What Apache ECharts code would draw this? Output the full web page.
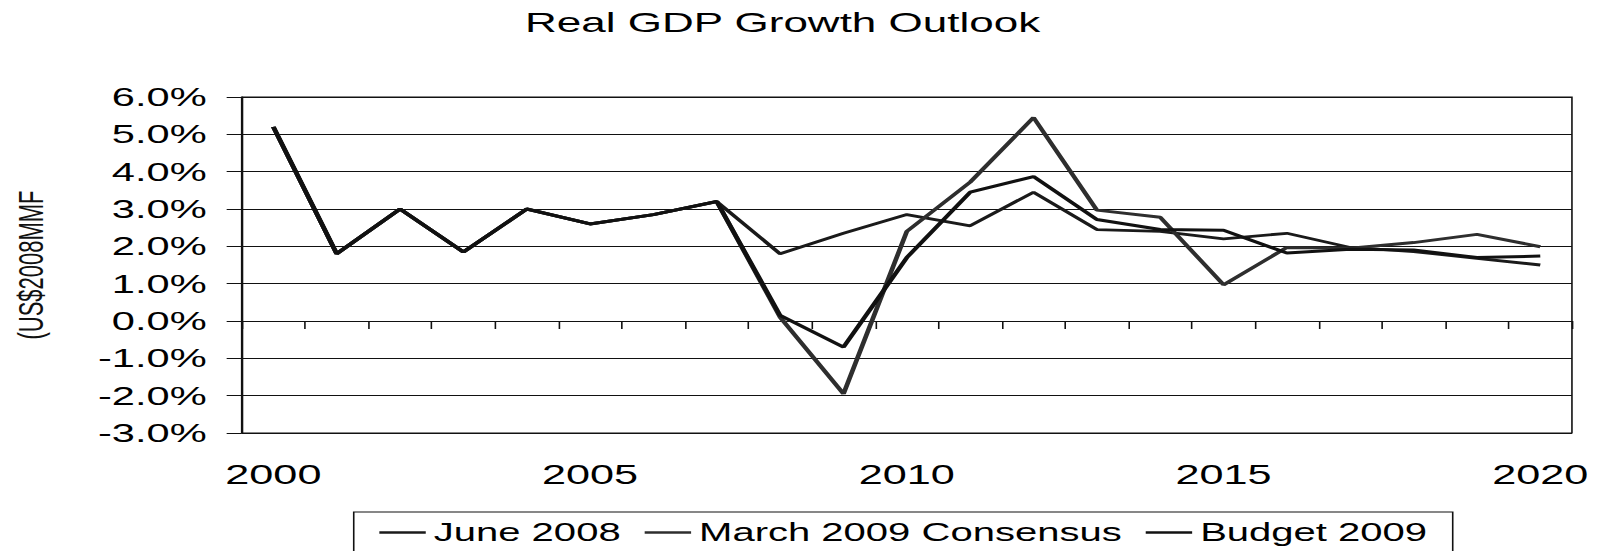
<!DOCTYPE html>
<html>
<head>
<meta charset="utf-8">
<title>Real GDP Growth Outlook</title>
<script src="https://cdn.jsdelivr.net/npm/echarts@6/dist/echarts.min.js"></script>
<style>
  html, body { margin: 0; padding: 0; background: #fff; overflow: hidden; }
  /* the scanned original is stretched sideways, so lay the chart out narrow and widen it */
  #chart { width: 1004px; height: 551px; transform: scaleX(1.6006); transform-origin: 0 0; }
</style>
</head>
<body>
<div id="chart"></div>
<script>
const years = ['2000', '2001', '2002', '2003', '2004', '2005', '2006', '2007', '2008', '2009', '2010',
  '2011', '2012', '2013', '2014', '2015', '2016', '2017', '2018', '2019', '2020']

// real GDP growth, %
const june2008 = [5.2, 1.8, 3.0, 1.85, 3.0, 2.6, 2.85, 3.2, 1.8, 2.35, 2.85,
  2.55, 3.45, 2.45, 2.4, 2.2, 2.35, 1.97, 1.86, 1.68, 1.5]
const march2009 = [5.2, 1.8, 3.0, 1.85, 3.0, 2.6, 2.85, 3.2, 0.1, -1.95, 2.4,
  3.72, 5.45, 2.97, 2.78, 0.97, 1.97, 1.95, 2.1, 2.32, 1.99]
const budget2009 = [5.2, 1.8, 3.0, 1.85, 3.0, 2.6, 2.85, 3.2, 0.15, -0.7, 1.7,
  3.45, 3.87, 2.72, 2.45, 2.43, 1.82, 1.92, 1.9, 1.7, 1.74]

const yMin = -3
const yMax = 6
const yStep = 1

const font = 'Liberation Sans'

function lineSeries (name, data, color, width) {
  return {
    name: name,
    type: 'line',
    xAxisIndex: 0,
    data: data,
    symbol: 'none',
    lineStyle: { color: color, width: width },
    itemStyle: { color: color }
  }
}

const chart = echarts.init(document.getElementById('chart'), null, { renderer: 'svg' })

const option = {
  backgroundColor: '#fff',
  animation: false,
  textStyle: { fontFamily: font, color: '#000' },
  title: {
    text: 'Real GDP Growth Outlook',
    left: 323,
    top: 4,
    textStyle: { fontFamily: font, fontSize: 27.5, fontWeight: 'normal', color: '#000' }
  },
  grid: {
    left: 148.7,
    right: 21.9,
    top: 97,
    bottom: 118,
    show: true,
    borderColor: '#111',
    borderWidth: 1
  },
  legend: {
    left: 221,
    top: 512,
    padding: [8, 16, 8, 16],
    itemGap: 15,
    icon: 'rect',
    itemWidth: 29,
    itemHeight: 2.6,
    borderColor: '#111',
    borderWidth: 1,
    textStyle: { fontFamily: font, fontSize: 25, color: '#000' },
    data: ['June 2008', 'March 2009 Consensus', 'Budget 2009']
  },
  xAxis: [
    {
      // the zero line with its ticks
      type: 'category',
      data: years,
      boundaryGap: true,
      axisLine: { onZero: true, lineStyle: { color: '#111', width: 1 } },
      axisTick: { show: true, interval: 0, length: 8, lineStyle: { color: '#111', width: 1 } },
      axisLabel: { show: false },
      splitLine: { show: false }
    },
    {
      // year labels under the plot
      type: 'category',
      data: years,
      position: 'bottom',
      boundaryGap: true,
      axisLine: { show: false, onZero: false },
      axisTick: { show: false },
      axisLabel: { interval: 4, margin: 28, fontFamily: font, fontSize: 27, color: '#000' },
      splitLine: { show: false }
    }
  ],
  yAxis: {
    type: 'value',
    min: yMin,
    max: yMax,
    interval: yStep,
    name: '(US$2008MMF',
    nameLocation: 'middle',
    nameRotate: 90,
    nameGap: 121,
    nameTextStyle: { fontFamily: font, fontSize: 22, color: '#111' },
    axisLine: { show: true, lineStyle: { color: '#111', width: 1 } },
    axisTick: { show: true, length: 9.4, lineStyle: { color: '#111', width: 1 } },
    axisLabel: {
      margin: 21.9,
      fontFamily: font,
      fontSize: 26,
      color: '#000',
      formatter: v => v.toFixed(1) + '%'
    },
    splitLine: { show: true, lineStyle: { color: '#111', width: 1 } }
  },
  series: [
    lineSeries('June 2008', june2008, '#1a1a1a', 2.8),
    lineSeries('March 2009 Consensus', march2009, '#2e2e2e', 3),
    lineSeries('Budget 2009', budget2009, '#111', 3)
  ]
}

chart.setOption(option)
</script>
</body>
</html>
